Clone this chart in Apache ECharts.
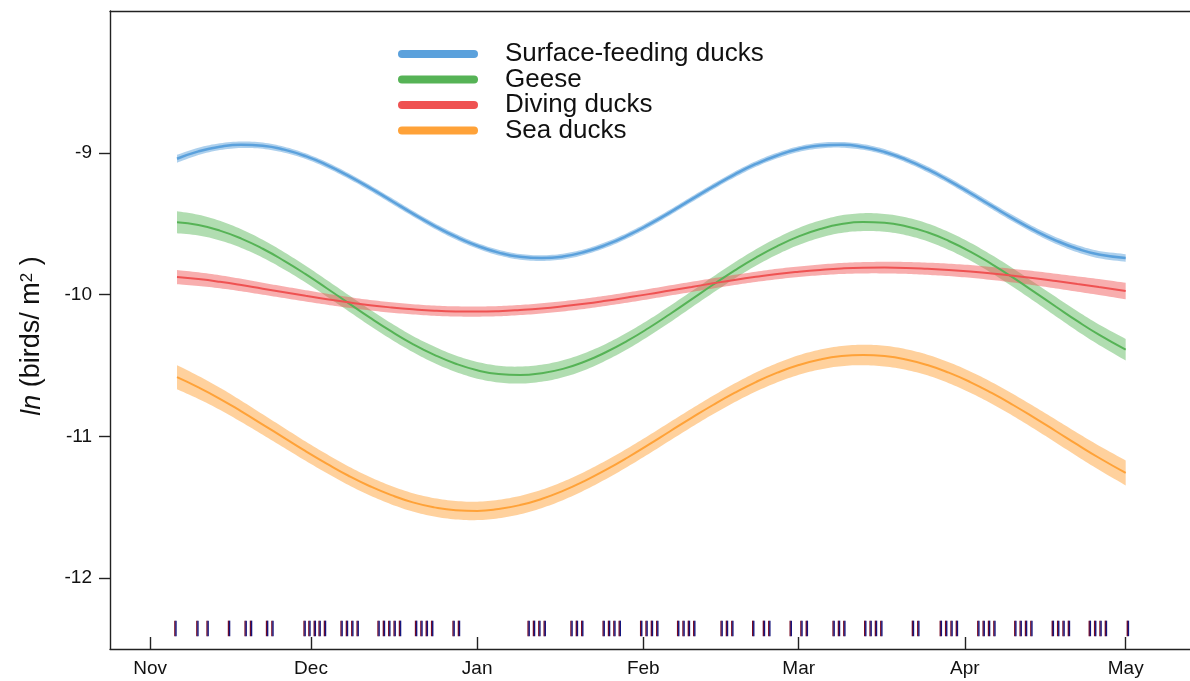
<!DOCTYPE html>
<html>
<head>
<meta charset="utf-8">
<script src="https://cdn.jsdelivr.net/npm/echarts@6/dist/echarts.min.js"></script>
<style>
  html, body { margin: 0; padding: 0; background: #fff; }
  #chart { width: 1190px; height: 681px; }
</style>
</head>
<body>
<div id="chart"></div>
<script>
// Days since 1 November (leap-year season) at which the fitted curves are given
const sampleDays = [5, 9, 13, 17, 21, 25, 29, 33, 37, 41, 45, 49, 53, 57, 61, 65, 69, 73, 77, 81, 85, 89, 93, 97, 101, 105, 109, 113, 117, 121, 125, 129, 133, 137, 141, 145, 149, 153, 157, 161, 165, 169, 173, 177, 182];

// Fitted ln(birds / m^2) per group
const surfaceFeeding = [-9.042, -8.990, -8.957, -8.943, -8.950, -8.978, -9.024, -9.087, -9.163, -9.248, -9.338, -9.429, -9.515, -9.592, -9.656, -9.704, -9.734, -9.743, -9.732, -9.700, -9.650, -9.585, -9.507, -9.420, -9.329, -9.239, -9.154, -9.079, -9.019, -8.974, -8.949, -8.944, -8.959, -8.994, -9.048, -9.116, -9.196, -9.284, -9.375, -9.464, -9.547, -9.619, -9.677, -9.718, -9.742];
const geese = [-9.490, -9.510, -9.549, -9.605, -9.677, -9.762, -9.856, -9.957, -10.060, -10.163, -10.260, -10.349, -10.425, -10.488, -10.534, -10.561, -10.568, -10.555, -10.524, -10.474, -10.407, -10.327, -10.236, -10.137, -10.034, -9.931, -9.831, -9.739, -9.658, -9.590, -9.538, -9.503, -9.489, -9.494, -9.518, -9.561, -9.622, -9.697, -9.785, -9.881, -9.983, -10.086, -10.188, -10.283, -10.389];
const divingDucks = [-9.877, -9.891, -9.910, -9.933, -9.959, -9.984, -10.009, -10.033, -10.055, -10.075, -10.091, -10.104, -10.114, -10.119, -10.120, -10.117, -10.109, -10.098, -10.083, -10.065, -10.044, -10.021, -9.997, -9.971, -9.946, -9.921, -9.897, -9.875, -9.855, -9.839, -9.826, -9.816, -9.811, -9.810, -9.812, -9.818, -9.826, -9.837, -9.851, -9.867, -9.885, -9.905, -9.926, -9.947, -9.975];
const seaDucks = [-10.583, -10.655, -10.735, -10.824, -10.917, -11.011, -11.105, -11.194, -11.278, -11.352, -11.415, -11.466, -11.501, -11.521, -11.526, -11.513, -11.485, -11.442, -11.385, -11.316, -11.237, -11.151, -11.059, -10.964, -10.870, -10.779, -10.694, -10.617, -10.551, -10.497, -10.458, -10.434, -10.426, -10.434, -10.458, -10.497, -10.551, -10.617, -10.694, -10.779, -10.870, -10.964, -11.059, -11.151, -11.258];

// Half-widths of the confidence bands
const surfaceFeedingCI = [0.028, 0.026, 0.024, 0.023, 0.022, 0.021, 0.02, 0.02, 0.02, 0.02, 0.02, 0.02, 0.02, 0.02, 0.02, 0.02, 0.02, 0.02, 0.02, 0.02, 0.02, 0.02, 0.02, 0.02, 0.02, 0.02, 0.02, 0.02, 0.02, 0.02, 0.02, 0.02, 0.02, 0.02, 0.02, 0.021, 0.021, 0.022, 0.022, 0.023, 0.023, 0.024, 0.025, 0.026, 0.027];
const geeseCI = [0.078, 0.073, 0.069, 0.066, 0.063, 0.061, 0.059, 0.058, 0.057, 0.057, 0.057, 0.057, 0.058, 0.058, 0.059, 0.059, 0.06, 0.06, 0.06, 0.06, 0.059, 0.059, 0.058, 0.058, 0.057, 0.057, 0.057, 0.058, 0.059, 0.06, 0.061, 0.062, 0.063, 0.063, 0.063, 0.063, 0.063, 0.063, 0.064, 0.065, 0.066, 0.068, 0.07, 0.072, 0.076];
const divingDucksCI = [0.05, 0.048, 0.046, 0.044, 0.042, 0.041, 0.04, 0.039, 0.038, 0.037, 0.037, 0.036, 0.036, 0.036, 0.036, 0.036, 0.036, 0.036, 0.036, 0.036, 0.036, 0.036, 0.036, 0.036, 0.036, 0.036, 0.036, 0.036, 0.037, 0.037, 0.038, 0.039, 0.04, 0.041, 0.042, 0.043, 0.044, 0.045, 0.046, 0.048, 0.05, 0.052, 0.054, 0.056, 0.058];
const seaDucksCI = [0.085, 0.081, 0.078, 0.075, 0.072, 0.07, 0.068, 0.067, 0.066, 0.065, 0.065, 0.065, 0.065, 0.065, 0.065, 0.065, 0.065, 0.065, 0.065, 0.065, 0.065, 0.065, 0.065, 0.065, 0.065, 0.065, 0.066, 0.067, 0.068, 0.069, 0.07, 0.071, 0.072, 0.073, 0.073, 0.073, 0.074, 0.075, 0.076, 0.077, 0.079, 0.081, 0.083, 0.085, 0.088];

// Survey dates (days since 1 November) shown as a rug
const surveyDays = [4.7, 8.8, 10.7, 14.7, 17.8, 18.8, 21.8, 22.8, 28.8, 29.7, 30.7, 31.6, 32.6, 35.7, 36.7, 37.7, 38.7, 42.6, 43.6, 44.6, 45.6, 46.6, 49.6, 50.6, 51.6, 52.6, 56.6, 57.6, 70.6, 71.6, 72.6, 73.6, 78.6, 79.6, 80.6, 84.6, 85.6, 86.6, 87.6, 91.6, 92.6, 93.6, 94.6, 98.5, 99.5, 100.5, 101.5, 106.6, 107.6, 108.6, 112.5, 114.5, 115.5, 119.5, 121.5, 122.5, 127.5, 128.5, 129.5, 133.4, 134.4, 135.4, 136.4, 142.3, 143.3, 147.5, 148.5, 149.5, 150.5, 154.5, 155.5, 156.5, 157.5, 161.4, 162.4, 163.4, 164.4, 168.4, 169.4, 170.4, 171.4, 175.3, 176.3, 177.3, 178.3, 182.4];

// Month axis
const monthLabels = ['Nov', 'Dec', 'Jan', 'Feb', 'Mar', 'Apr', 'May'];
const monthDays = [0, 30, 61, 92, 121, 152, 182];
const yTicks = [-12, -11, -10, -9];

const groups = [
  { name: 'Surface-feeding ducks', values: surfaceFeeding, ci: surfaceFeedingCI, color: '#5ba1dc', band: 'rgba(91,161,220,0.5)', width: 2.5 },
  { name: 'Geese', values: geese, ci: geeseCI, color: '#56b356', band: 'rgba(92,184,92,0.48)', width: 2 },
  { name: 'Diving ducks', values: divingDucks, ci: divingDucksCI, color: '#ef5252', band: 'rgba(240,86,86,0.48)', width: 2 },
  { name: 'Sea ducks', values: seaDucks, ci: seaDucksCI, color: '#ffa238', band: 'rgba(255,164,60,0.5)', width: 2 }
];

const RUG_TOP = -12.30, RUG_BOTTOM = -12.41;
const FONT = '"Liberation Sans", Arial, sans-serif';

// Catmull-Rom resampling of a pixel polyline so band edges follow smooth curves
function densify(pts, steps) {
  const out = [];
  for (let i = 0; i < pts.length - 1; i++) {
    const p0 = pts[i - 1] || pts[i], p1 = pts[i], p2 = pts[i + 1], p3 = pts[i + 2] || pts[i + 1];
    for (let s = 0; s < steps; s++) {
      const t = s / steps, t2 = t * t, t3 = t2 * t;
      const f = (a, b, c, d) => 0.5 * ((2 * b) + (-a + c) * t + (2 * a - 5 * b + 4 * c - d) * t2 + (-a + 3 * b - 3 * c + d) * t3);
      out.push([f(p0[0], p1[0], p2[0], p3[0]), f(p0[1], p1[1], p2[1], p3[1])]);
    }
  }
  out.push(pts[pts.length - 1]);
  return out;
}

const series = [];
groups.forEach((g) => {
  // confidence band as one filled polygon between the upper and lower bounds
  series.push({
    type: 'custom', name: g.name + ' band', silent: true,
    data: [[sampleDays[0], g.values[0]]],
    encode: { x: 0, y: 1 },
    renderItem: function (params, api) {
      const upper = sampleDays.map((d, k) => api.coord([d, g.values[k] + g.ci[k]]));
      const lower = sampleDays.map((d, k) => api.coord([d, g.values[k] - g.ci[k]]));
      const points = densify(upper, 8).concat(densify(lower, 8).reverse());
      return { type: 'polygon', shape: { points: points }, style: { fill: g.band } };
    }
  });
  series.push({
    type: 'line', name: g.name, smooth: true, showSymbol: false, silent: true,
    color: g.color,
    lineStyle: { color: g.color, width: g.width },
    data: sampleDays.map((d, k) => [d, g.values[k]])
  });
});

// Rug: each survey date drawn as a dark red and a dark blue stroke side by side
series.push({
  type: 'custom', name: 'surveys', silent: true,
  data: surveyDays.map(d => [d, RUG_TOP]),
  encode: { x: 0, y: 1 },
  renderItem: function (params, api) {
    const top = api.coord([api.value(0), RUG_TOP]);
    const bottom = api.coord([api.value(0), RUG_BOTTOM]);
    const x = top[0];
    return {
      type: 'group',
      children: [
        { type: 'line', shape: { x1: x - 0.5, y1: top[1], x2: x - 0.5, y2: bottom[1] }, style: { stroke: '#7a0a22', lineWidth: 1.4 } },
        { type: 'line', shape: { x1: x + 0.6, y1: top[1], x2: x + 0.6, y2: bottom[1] }, style: { stroke: '#15157e', lineWidth: 1.4 } }
      ]
    };
  }
});

const axisColor = '#222';
const chart = echarts.init(document.getElementById('chart'), null, { renderer: 'canvas' });
chart.setOption({
  animation: false,
  backgroundColor: '#ffffff',
  grid: { left: 110, top: 11, right: 0, bottom: 32, containLabel: false },
  legend: {
    data: groups.map(g => g.name),
    orient: 'vertical',
    left: 393, top: 36,
    itemWidth: 80, itemHeight: 8, itemGap: -0.5,
    icon: 'path://M4,0 H76 A4,4 0 0 1 76,8 H4 A4,4 0 0 1 4,0 Z',
    selectedMode: false,
    textStyle: { fontFamily: FONT, fontSize: 26, color: '#111', padding: [0, 0, 0, 22] }
  },
  xAxis: [{
    type: 'value', min: -7.5, max: 194,
    axisLine: { show: true, onZero: false, lineStyle: { color: axisColor, width: 1.4 } },
    axisTick: { show: true, inside: true, length: 12, customValues: monthDays, lineStyle: { color: axisColor, width: 1.4 } },
    axisLabel: {
      show: true, margin: 10, customValues: monthDays,
      formatter: v => monthLabels[monthDays.indexOf(v)] || '',
      fontFamily: FONT, fontSize: 19, color: '#111'
    },
    splitLine: { show: false }
  }, {
    type: 'value', position: 'top', min: -7.5, max: 194,
    axisLine: { show: true, onZero: false, lineStyle: { color: axisColor, width: 1.4 } },
    axisTick: { show: false }, axisLabel: { show: false }, splitLine: { show: false }
  }],
  yAxis: {
    type: 'value', min: -12.5, max: -8,
    axisLine: { show: true, onZero: false, lineStyle: { color: axisColor, width: 1.4 } },
    axisTick: { show: true, inside: false, length: 11, customValues: yTicks, lineStyle: { color: axisColor, width: 1.4 } },
    axisLabel: { show: true, margin: 18, customValues: yTicks, fontFamily: FONT, fontSize: 19, color: '#111' },
    splitLine: { show: false }
  },
  graphic: [{
    type: 'text', x: 32, y: 336, rotation: Math.PI / 2,
    style: {
      text: '{it|ln} (birds/ m{sup|2} )',
      align: 'center', verticalAlign: 'middle',
      fontFamily: FONT, fontSize: 27, fill: '#111',
      rich: {
        it: { fontStyle: 'italic', fontFamily: FONT, fontSize: 27, fill: '#111' },
        sup: { fontSize: 17, fontFamily: FONT, fill: '#111', verticalAlign: 'top', lineHeight: 17, padding: [0, 0, 10, 0] }
      }
    }
  }],
  series: series
});
</script>
</body>
</html>
